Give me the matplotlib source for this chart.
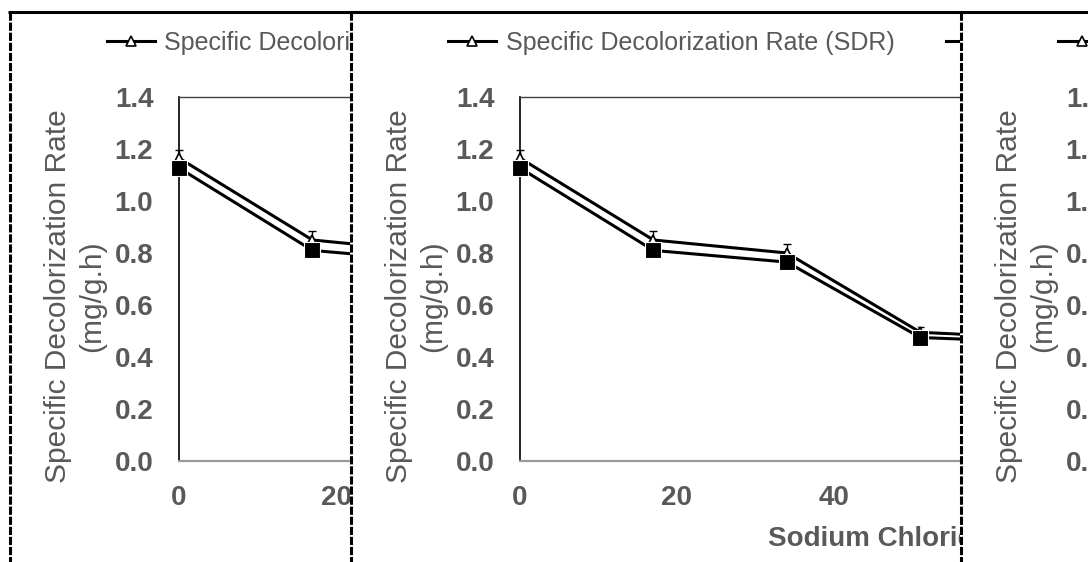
import matplotlib
matplotlib.use("Agg")
import matplotlib.pyplot as plt
import matplotlib.patheffects as pe
from matplotlib.transforms import Bbox, TransformedBbox


# NaCl concentration (g/L) and specific decolorization rate (mg/g.h)
nacl = [0, 17, 34, 51, 68]
sdr = [1.165, 0.85, 0.80, 0.495, 0.47]
sdr_err = [0.03, 0.035, 0.035, 0.02, 0.02]
sdr_mean = [1.127, 0.81, 0.765, 0.475, 0.455]

x_ticks = [0, 20, 40, 60, 80, 100]
y_ticks = [0.0, 0.2, 0.4, 0.6, 0.8, 1.0, 1.2, 1.4]
y_tick_labels = ["0.0", "0.2", "0.4", "0.6", "0.8", "1.0", "1.2", "1.4"]
series_labels = ["Specific Decolorization Rate (SDR)", "Mean SDR"]
x_title = "Sodium Chloride (g/L)"
y_title = "Specific Decolorization Rate\n(mg/g.h)"

W, H = 1088, 562
TEXT = "#595959"
# pixel columns of the strips, each showing the same chart
PANELS = [(9, 350), (350, 960), (960, 1088)]

plt.rcParams["font.family"] = ["Liberation Sans", "DejaVu Sans"]


def draw_chart(fig, left):
    ax_left = left + 170
    ax = fig.add_axes([ax_left / W, (H - 461) / H, 785 / W, 364 / H])
    ax.set_xlim(0, 100)
    ax.set_ylim(0, 1.4)

    outline = [pe.Stroke(linewidth=4.4, foreground="white"), pe.Normal()]
    ax.errorbar(nacl, sdr, yerr=sdr_err, fmt="none", ecolor="black",
                elinewidth=1, capsize=3, capthick=1, zorder=2)
    l1, = ax.plot(nacl, sdr, color="black", lw=2.2, path_effects=outline, zorder=3)
    l2, = ax.plot(nacl, sdr_mean, color="black", lw=2.2, path_effects=outline, zorder=4)
    m1, = ax.plot(nacl, sdr, ls="none", marker="^", ms=7.5, mfc="white",
                  mec="black", mew=1.2, zorder=5)
    m2, = ax.plot(nacl, sdr_mean, ls="none", marker="s", ms=11.5, mfc="black",
                  mec="white", mew=0.8, zorder=6)

    ax.set_xticks(x_ticks, labels=[str(v) for v in x_ticks], fontweight="bold")
    ax.set_yticks(y_ticks, labels=y_tick_labels, fontweight="bold")
    ax.tick_params(axis="both", length=0, labelsize=20, labelcolor=TEXT)
    ax.tick_params(axis="y", pad=18.5)
    ax.tick_params(axis="x", pad=17)

    ax.spines["right"].set_visible(False)
    ax.spines["left"].set_color("black")
    ax.spines["left"].set_linewidth(1.2)
    ax.spines["top"].set_color("#404040")
    ax.spines["top"].set_linewidth(1.0)
    ax.spines["bottom"].set_color("#9a9a9a")
    ax.spines["bottom"].set_linewidth(1.6)

    ax.set_ylabel(y_title, fontsize=21.5, color=TEXT, linespacing=1.25,
                  ha="center", va="center")
    ax.yaxis.set_label_coords(-104 / 785, (461 - 296) / 364)
    ax.set_xlabel(x_title, fontsize=20, fontweight="bold", color=TEXT, va="top")
    ax.xaxis.set_label_coords(0.5, -(526 - 461) / 364)

    leg = ax.legend([(l1, m1), (l2, m2)], series_labels, ncol=2, loc="center left",
                    bbox_to_anchor=((left + 98) / W, 1 - 43 / H),
                    bbox_transform=fig.transFigure, frameon=False, borderpad=0,
                    borderaxespad=0, handlelength=1.9, handletextpad=0.4,
                    columnspacing=2.05, prop={"size": 18}, labelcolor=TEXT)
    for handle in leg.legend_handles:
        for part in getattr(handle, "get_children", lambda: [])():
            if part.get_linestyle() != "None":
                part.set_linewidth(2.8)
    return ax


fig = plt.figure(figsize=(W / 100, H / 100), dpi=100)
axes = [draw_chart(fig, left) for left, _ in PANELS]

# strip borders
frame = fig.add_axes([0, 0, 1, 1], zorder=10)
frame.set_xlim(0, W)
frame.set_ylim(H, 0)
frame.axis("off")
frame.patch.set_alpha(0)
frame.plot([8, W], [12, 12], color="black", lw=2.2, solid_capstyle="butt")
for x in [9.5, 350.5, 960.5]:
    frame.plot([x, x], [12, H], color="black", lw=2.2,
               linestyle=(0, (2.7, 0.6)))

# keep each chart copy inside its own strip
fig.canvas.draw()
for ax, (left, right) in zip(axes, PANELS):
    clip = TransformedBbox(Bbox.from_extents(left / W, 0, right / W, 1 - 12 / H),
                           fig.transFigure)
    for artist in ax.findobj():
        if artist is ax:
            continue
        artist.set_clip_path(None)
        artist.set_clip_box(clip)
        artist.set_clip_on(True)

fig.savefig("out.png", dpi=100, facecolor="white")
